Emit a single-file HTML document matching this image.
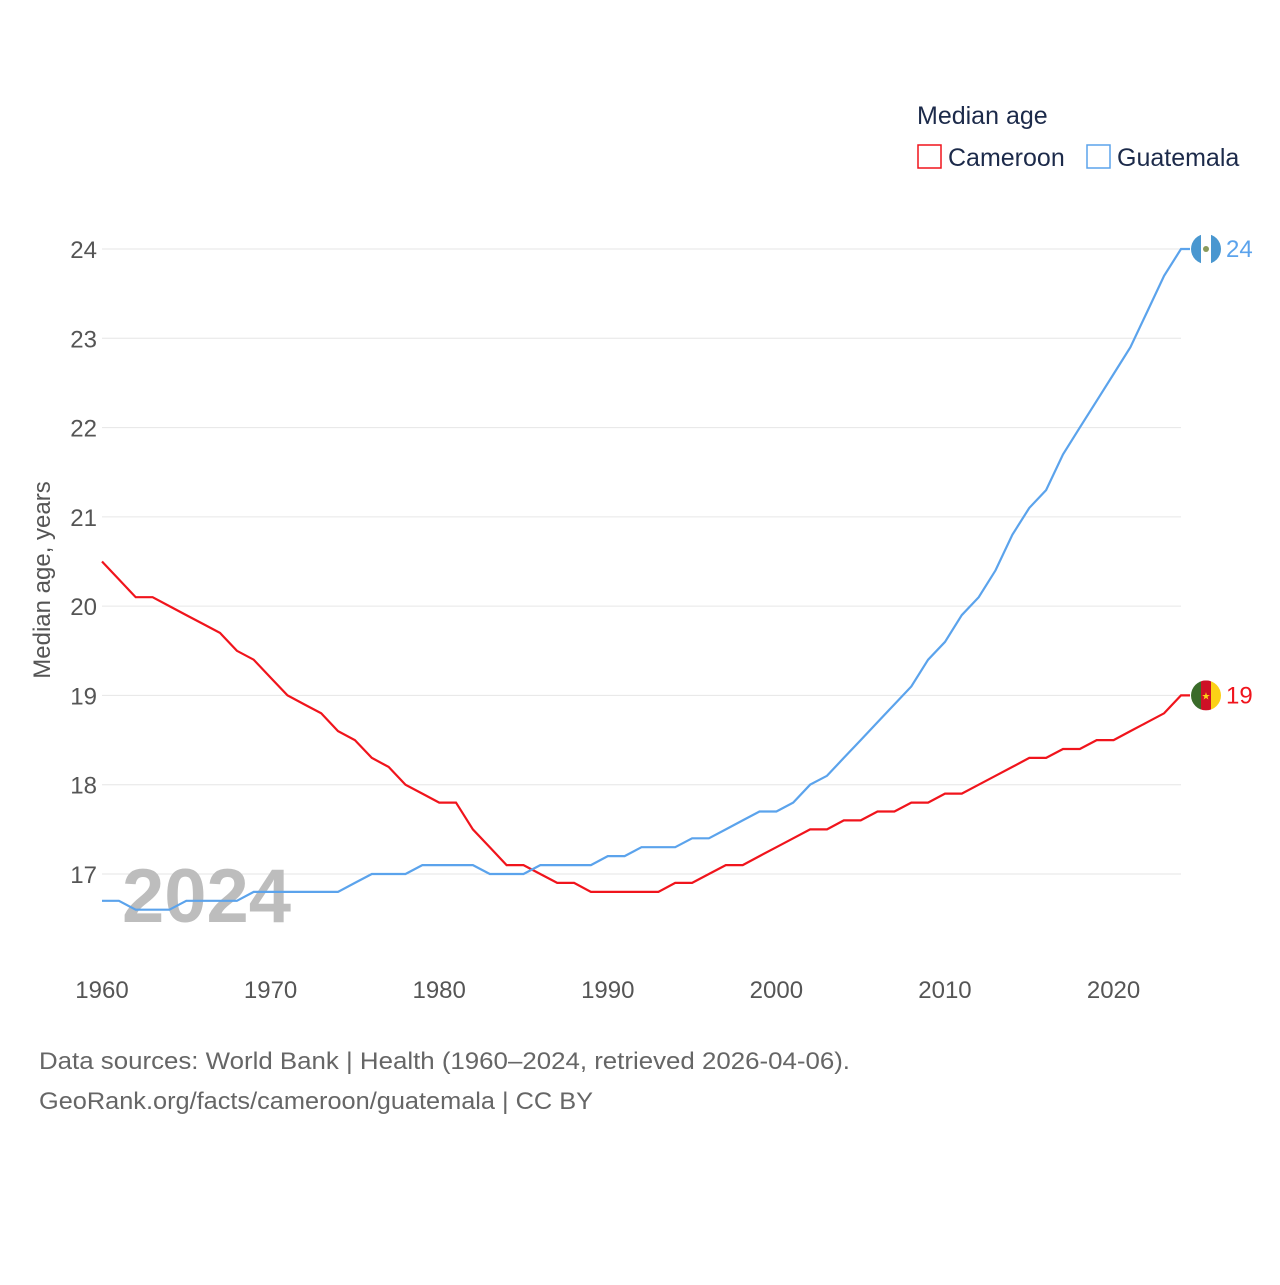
<!DOCTYPE html>
<html><head><meta charset="utf-8">
<style>
html,body{margin:0;padding:0;background:#fff;}
body{width:1280px;height:1280px;position:relative;font-family:"Liberation Sans",sans-serif;}
svg text{font-family:"Liberation Sans",sans-serif;}
</style></head>
<body>
<svg id="chart" width="1280" height="1280" xmlns="http://www.w3.org/2000/svg">
  <g id="grid"></g>
  <g id="yticks"></g>
  <g id="xticks"></g>
  <text x="122" y="922" font-size="76" font-weight="bold" fill="#bdbdbd">2024</text>
  <g id="series"></g>
  <text transform="translate(50,580) rotate(-90)" text-anchor="middle" font-size="24" fill="#555">Median age, years</text>
  <text x="917" y="124" font-size="25" fill="#1c2a4a">Median age</text>
  <g>
    <rect x="918" y="145" width="23" height="23" fill="none" stroke="#f0141c" stroke-width="1.5"/>
    <text x="948" y="166" font-size="25" fill="#1c2a4a">Cameroon</text>
  </g>
  <g>
    <rect x="1087" y="145" width="23" height="23" fill="none" stroke="#5ba3ec" stroke-width="1.5"/>
    <text x="1117" y="166" font-size="25" fill="#1c2a4a">Guatemala</text>
  </g>
  <text x="39" y="1069" font-size="24" fill="#666" textLength="811" lengthAdjust="spacingAndGlyphs">Data sources: World Bank | Health (1960–2024, retrieved 2026-04-06).</text>
  <text x="39" y="1109" font-size="24" fill="#666" textLength="554" lengthAdjust="spacingAndGlyphs">GeoRank.org/facts/cameroon/guatemala | CC BY</text>
</svg>
<script>
const years = [];
for (let y = 1960; y <= 2024; y++) years.push(y);
const cameroon = [20.5,20.3,20.1,20.1,20.0,19.9,19.8,19.7,19.5,19.4,19.2,19.0,18.9,18.8,18.6,18.5,18.3,18.2,18.0,17.9,17.8,17.8,17.5,17.3,17.1,17.1,17.0,16.9,16.9,16.8,16.8,16.8,16.8,16.8,16.9,16.9,17.0,17.1,17.1,17.2,17.3,17.4,17.5,17.5,17.6,17.6,17.7,17.7,17.8,17.8,17.9,17.9,18.0,18.1,18.2,18.3,18.3,18.4,18.4,18.5,18.5,18.6,18.7,18.8,19.0];
const guatemala = [16.7,16.7,16.6,16.6,16.6,16.7,16.7,16.7,16.7,16.8,16.8,16.8,16.8,16.8,16.8,16.9,17.0,17.0,17.0,17.1,17.1,17.1,17.1,17.0,17.0,17.0,17.1,17.1,17.1,17.1,17.2,17.2,17.3,17.3,17.3,17.4,17.4,17.5,17.6,17.7,17.7,17.8,18.0,18.1,18.3,18.5,18.7,18.9,19.1,19.4,19.6,19.9,20.1,20.4,20.8,21.1,21.3,21.7,22.0,22.3,22.6,22.9,23.3,23.7,24.0];
const yTicks = [17,18,19,20,21,22,23,24];
const xTicks = [1960,1970,1980,1990,2000,2010,2020];
const NS = "http://www.w3.org/2000/svg";
const xS = v => 102 + (v - 1960) * (1181 - 102) / 64;
const yS = v => 874 - (v - 17) * (874 - 249) / 7;
const grid = document.getElementById('grid'), yt = document.getElementById('yticks'), xt = document.getElementById('xticks'), ser = document.getElementById('series');
yTicks.forEach(t => {
  const l = document.createElementNS(NS,'line');
  
  
  l.setAttribute('x1',102);l.setAttribute('x2',1181);l.setAttribute('y1',yS(t));l.setAttribute('y2',yS(t));
  l.setAttribute('stroke','#e6e6e6');l.setAttribute('stroke-width','1');
  grid.appendChild(l);
  const tx = document.createElementNS(NS,'text');
  
  
  tx.setAttribute('x',97);tx.setAttribute('y',yS(t)+9);tx.setAttribute('text-anchor','end');
  tx.setAttribute('font-size','24');tx.setAttribute('fill','#555');tx.textContent=t;
  yt.appendChild(tx);
});
xTicks.forEach(t => {
  const tx = document.createElementNS(NS,'text');
  
  
  tx.setAttribute('x',xS(t));tx.setAttribute('y',998);tx.setAttribute('text-anchor','middle');
  tx.setAttribute('font-size','24');tx.setAttribute('fill','#555');tx.textContent=t;
  xt.appendChild(tx);
});
function drawLine(vals, color, name, flag) {
  const p = document.createElementNS(NS,'path');
  
  
  const last = vals[vals.length-1];
  let d = vals.map((v,i)=>(i?'L':'M')+xS(years[i]).toFixed(1)+','+yS(v).toFixed(1)).join(' ');
  d += ' L' + (xS(years[years.length-1])+9) + ',' + yS(last).toFixed(1);
  p.setAttribute('d', d);p.setAttribute('fill','none');p.setAttribute('stroke',color);p.setAttribute('stroke-width','2.2');
  ser.appendChild(p);
  const cy = yS(last), cx = 1206;
  const g = document.createElementNS(NS,'g');
  
  
  g.innerHTML = flag(cx, cy);
  ser.appendChild(g);
  const tx = document.createElementNS(NS,'text');
  
  
  tx.setAttribute('x',1226);tx.setAttribute('y',cy+8);tx.setAttribute('font-size','24');tx.setAttribute('fill',color);
  tx.textContent = Math.round(last);
  ser.appendChild(tx);
}
drawLine(cameroon,'#f0141c','cameroon',(cx,cy)=>`<clipPath id="cc"><circle cx="${cx}" cy="${cy}" r="15"/></clipPath><g clip-path="url(#cc)"><rect x="${cx-15}" y="${cy-15}" width="10" height="30" fill="#3a6b2a"/><rect x="${cx-5}" y="${cy-15}" width="10" height="30" fill="#ce1126"/><rect x="${cx+5}" y="${cy-15}" width="10" height="30" fill="#fcd116"/></g><text x="${cx}" y="${cy+4}" font-size="10" text-anchor="middle" fill="#fcd116">★</text>`);
drawLine(guatemala,'#5ba3ec','guatemala',(cx,cy)=>`<clipPath id="cg"><circle cx="${cx}" cy="${cy}" r="15"/></clipPath><g clip-path="url(#cg)"><rect x="${cx-15}" y="${cy-15}" width="10" height="30" fill="#4997d0"/><rect x="${cx-5}" y="${cy-15}" width="10" height="30" fill="#fff"/><rect x="${cx+5}" y="${cy-15}" width="10" height="30" fill="#4997d0"/></g><circle cx="${cx}" cy="${cy}" r="3" fill="#8a9a5b"/>`);
</script>
</body></html>
